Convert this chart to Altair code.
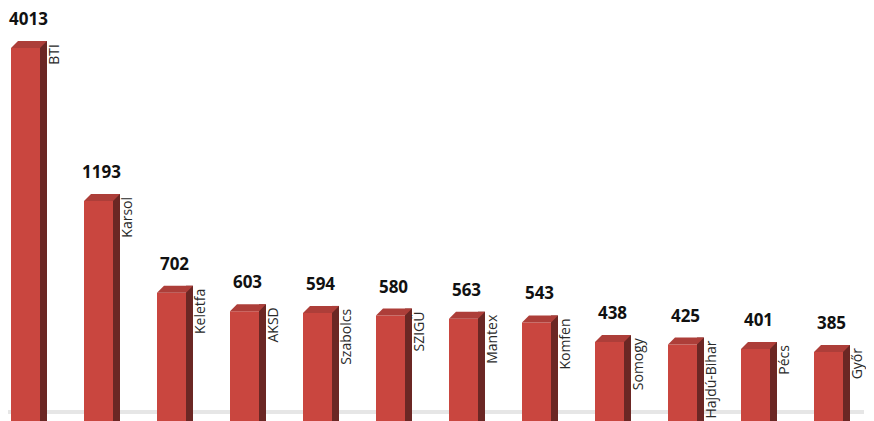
import altair as alt
import pandas as pd

categories = ["BTI", "Karsol", "Keletfa", "AKSD", "Szabolcs", "SZIGÜ",
              "Mantex", "Komfen", "Somogy", "Hajdú-Bihar", "Pécs", "Győr"]
values = [4013, 1193, 702, 603, 594, 580, 563, 543, 438, 425, 401, 385]

df = pd.DataFrame({"cat": categories, "value": values})

FRONT = "#c9463f"
SIDE = "#6b2724"
TOP = "#ad3e39"

x_enc = alt.X("cat:N", sort=None, axis=None,
              scale=alt.Scale(range=[-19, 857], paddingInner=0, paddingOuter=0))
y_scale = alt.Scale(domain=[16, 2011], clamp=True, zero=False, nice=False)
y_enc = alt.Y("value:Q", scale=y_scale, axis=None)

base = alt.Chart(df)

floor = base.mark_rule(color="#e6e6e6", strokeWidth=3).encode(
    x=alt.value(-6), x2=alt.value(856), y=alt.value(364)
)

side = base.mark_bar(color=SIDE, width=7, xOffset=18, yOffset=-7).encode(
    x=x_enc, y=y_enc, y2=alt.datum(0)
)

front = base.mark_bar(color=FRONT, width=29).encode(
    x=x_enc, y=y_enc, y2=alt.datum(0)
)

top = base.mark_point(
    shape="M -14.5 0 L 14.5 0 L 21.5 -7 L -7.5 -7 Z",
    size=4, filled=True, opacity=1, color=TOP, strokeWidth=0
).encode(x=x_enc, y=y_enc)

value_labels = base.mark_text(
    font="Open Sans", fontSize=17, fontWeight="bold", color="#111111",
    baseline="middle", align="center", xOffset=3, yOffset=-28
).encode(x=x_enc, y=y_enc, text=alt.Text("value:Q", format="d"))

cat_labels = base.mark_text(
    font="Open Sans", fontSize=14, color="#2a2a2a", angle=270,
    align="right", baseline="alphabetic", xOffset=33.5, yOffset=-4
).encode(x=x_enc, y=y_enc, text="cat:N")

chart = alt.layer(floor, side, front, top, value_labels, cat_labels).properties(
    width=858, height=373,
    padding={"top": 40, "left": 0, "right": 0, "bottom": 0},
    autosize=alt.AutoSizeParams(type="none"),
    background="white",
).configure_view(stroke=None)

chart.save("out.html", embed_options={"renderer": "svg", "actions": False})
